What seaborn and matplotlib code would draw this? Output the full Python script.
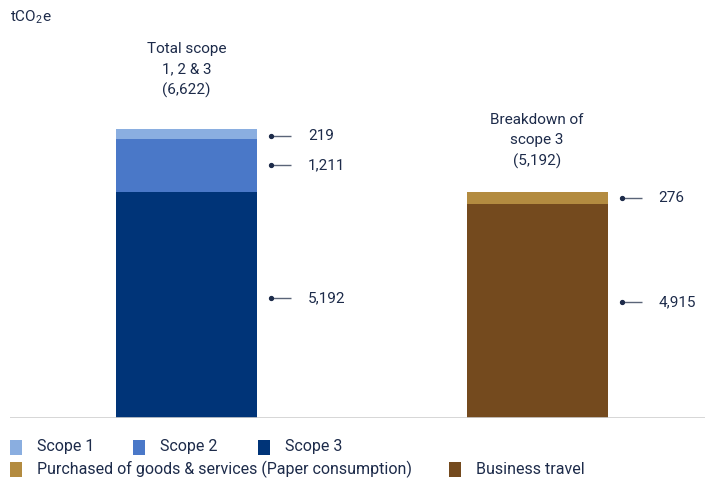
import numpy as np
import pandas as pd
import matplotlib
matplotlib.use("Agg")
import matplotlib.pyplot as plt
from matplotlib.patches import Rectangle
import seaborn as sns

# ---- data ----
groups = ["Total scope\n1, 2 & 3\n(6,622)", "Breakdown of\nscope 3\n(5,192)"]
left_labels = ["Scope 1", "Scope 2", "Scope 3"]
left_values = [219, 1211, 5192]          # top -> bottom
right_labels = ["Purchased of goods & services (Paper consumption)", "Business travel"]
right_values = [276, 4915]
left_colors = ["#8aaee0", "#4a78c8", "#003478"]
right_colors = ["#b38b40", "#744a1e"]
value_text_left = ["219", "1,211", "5,192"]
value_text_right = ["276", "4,915"]

TXT = "#1d2b4a"
FS = 11
sns.set_theme(style="white")
plt.rcParams["font.family"] = ["Roboto", "DejaVu Sans"]

W, H = 705, 478
fig = plt.figure(figsize=(W / 100, H / 100), dpi=100)
ax_l, ax_r, base_y, top_y = 10, 705, 418, 20
ax = fig.add_axes([ax_l / W, (H - base_y) / H, (ax_r - ax_l) / W, (base_y - top_y) / H])

ppu = 0.0436  # pixels per tCO2e
bar_w = 0.402
order = groups

def stack(group, values, colors):
    vals = values[::-1]
    cols = colors[::-1]
    cums = np.cumsum(vals)
    for c, col in zip(cums[::-1], cols[::-1]):
        df = pd.DataFrame({"g": [group], "v": [c]})
        sns.barplot(data=df, x="g", y="v", order=order, color=col, width=bar_w,
                    saturation=1, linewidth=0, ax=ax)
    bottoms = np.concatenate([[0], cums[:-1]])
    mids = bottoms + np.array(vals) / 2
    return mids[::-1], cums[-1]

mids_l, tot_l = stack(groups[0], left_values, left_colors)
mids_r, tot_r = stack(groups[1], right_values, right_colors)

ax.set_ylim(0, (base_y - top_y) / ppu)
ax.set_xlim(-0.504, 1.479)

px_per_x = (ax_r - ax_l) / (ax.get_xlim()[1] - ax.get_xlim()[0])

def annotate(xi, mids, texts):
    xr = xi + bar_w / 2
    for m, t in zip(mids, texts):
        x0 = xr + 14 / px_per_x
        x1 = xr + 34 / px_per_x
        ax.plot([x0, x1], [m, m], color="#5a6478", lw=1, solid_capstyle="butt")
        ax.plot([x0], [m], marker="o", ms=2.8, color=TXT)
        ax.text(xr + 51 / px_per_x, m, t, va="center", ha="left", fontsize=FS, color=TXT)

mids_l_adj = [mids_l[0] - 2 / ppu, mids_l[1], mids_l[2] + 7 / ppu]
mids_r_adj = [mids_r[0], mids_r[1] + 9 / ppu]
annotate(0, mids_l_adj, value_text_left)
annotate(1, mids_r_adj, value_text_right)

for xi, (g, tot) in enumerate(zip(groups, [tot_l, tot_r])):
    pad = 31 if xi == 0 else 23
    ax.annotate(g, xy=(xi, tot), xytext=(0, pad * 0.72), textcoords="offset points",
                ha="center", va="bottom", fontsize=FS, color=TXT, linespacing=1.55)

ax.axhline(0, color="#cfcfcf", lw=1.2)
ax.set_xlabel("")
ax.set_ylabel("")
ax.set_xticks([])
ax.set_yticks([])
for s in ax.spines.values():
    s.set_visible(False)

fig.text(10 / W, 1 - 17 / H, r"tCO$_{\mathregular{2}}$e", fontsize=FS, color=TXT,
         va="center", ha="left")

# ---- legend ----
def leg(x, y, color, label):
    fig.add_artist(Rectangle((x / W, 1 - (y + 7.5) / H), 12 / W, 15 / H,
                             transform=fig.transFigure, color=color, lw=0))
    fig.text((x + 27) / W, 1 - y / H, label, fontsize=11.5, color=TXT, va="center", ha="left")

for x, c, l in zip([10, 133, 258], left_colors, left_labels):
    leg(x, 447, c, l)
for x, c, l in zip([10, 449], right_colors, right_labels):
    leg(x, 469, c, l)

fig.savefig("out.png", dpi=100)
